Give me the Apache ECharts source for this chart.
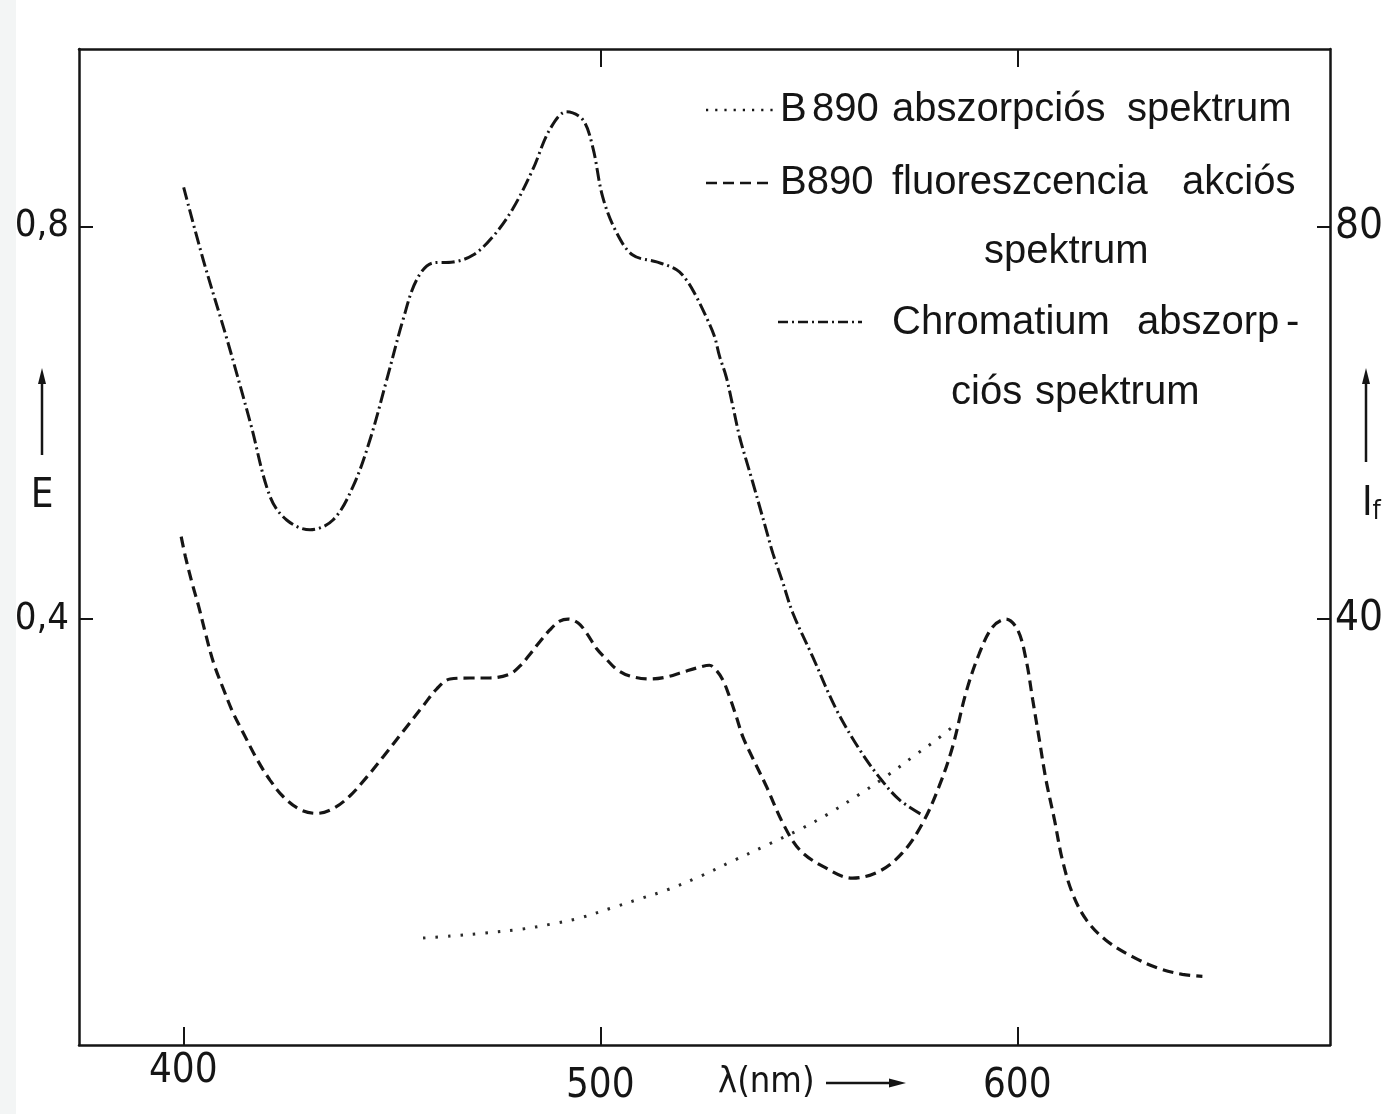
<!DOCTYPE html>
<html>
<head>
<meta charset="utf-8">
<script src="https://cdn.jsdelivr.net/npm/echarts@6/dist/echarts.min.js"></script>
<style>
  html, body { margin: 0; padding: 0; background: #ffffff; }
  #chart { width: 1392px; height: 1114px; }
</style>
</head>
<body>
<div id="chart"></div>
<script>
// Axis ticks
const wavelengthTicks = [400, 500, 600];
const topTicks = [500, 600];
const extinctionTicks = [0.4, 0.8];
const intensityTicks = [40, 80];

// Chromatium absorption spectrum (E, left axis)
const chromatiumNm = [400.1, 404.8, 410.5, 416.1, 420.8, 424.8, 430.4, 435.9, 440.7, 444.8,
  448.8, 452.7, 456.0, 459.9, 464.7, 469.5, 474.3, 479.0, 483.8, 487.9,
  491.9, 495.8, 498.2, 500.6, 503.9, 507.8, 513.5, 518.3, 520.6, 523.0,
  525.4, 527.4, 528.6, 530.2, 531.8, 533.4, 535.0, 536.6, 538.2, 539.8,
  541.4, 543.8, 546.2, 550.9, 556.6, 562.2, 566.9, 571.7, 577.0];
const chromatiumE = [0.840, 0.766, 0.685, 0.600, 0.525, 0.501, 0.491, 0.501, 0.535, 0.583,
  0.644, 0.705, 0.746, 0.763, 0.764, 0.771, 0.790, 0.818, 0.858, 0.899,
  0.917, 0.909, 0.881, 0.830, 0.794, 0.771, 0.764, 0.756, 0.746, 0.729,
  0.708, 0.688, 0.668, 0.647, 0.617, 0.586, 0.562, 0.539, 0.515, 0.491,
  0.467, 0.437, 0.406, 0.362, 0.308, 0.267, 0.239, 0.216, 0.201];

// B890 fluorescence action spectrum (If, right axis)
const fluorNm = [399.5, 400.5, 402.1, 403.7, 405.3, 407.3, 409.7, 412.0, 414.4, 417.7,
  420.8, 424.0, 428.0, 432.0, 436.0, 440.0, 444.0, 448.0, 452.8, 457.6,
  460.8, 464.0, 468.7, 473.5, 478.3, 480.7, 483.1, 485.5, 487.9, 490.3,
  492.3, 494.7, 496.7, 499.1, 501.5, 503.9, 507.1, 511.9, 515.9, 519.8,
  523.8, 526.2, 527.8, 529.4, 531.0, 532.6, 534.2, 536.6, 539.8, 543.8,
  547.8, 553.4, 560.5, 566.9, 572.5, 577.3, 581.3, 584.5, 587.7, 590.9,
  594.1, 597.3, 600.1, 602.1, 603.7, 605.3, 606.9, 608.9, 610.8, 613.2,
  616.5, 621.2, 627.6, 634.0, 639.6, 644.4];
const fluorIf = [48.4, 46.4, 43.7, 41.3, 38.6, 35.5, 32.8, 30.4, 28.4, 25.7,
  23.6, 21.9, 20.6, 20.2, 20.7, 22.0, 23.9, 26.0, 28.6, 31.2,
  32.9, 33.9, 34.0, 34.0, 34.4, 35.2, 36.4, 37.7, 38.9, 39.8,
  40.0, 39.6, 38.6, 37.0, 35.9, 34.9, 34.2, 33.9, 34.1, 34.6,
  35.1, 35.3, 34.8, 33.8, 32.1, 30.1, 28.0, 25.8, 23.0, 19.2,
  16.5, 14.8, 13.6, 14.3, 16.2, 19.2, 23.0, 27.0, 32.5, 36.5,
  39.2, 40.0, 38.9, 35.9, 31.8, 27.7, 23.6, 19.6, 15.5, 12.1,
  9.4, 7.3, 5.6, 4.4, 3.8, 3.6];

// B890 absorption spectrum (E, left axis)
const b890Nm = [457.5, 464.0, 472.0, 481.0, 488.0, 494.7, 503.0, 509.5, 516.0, 524.0,
  532.0, 540.6, 548.0, 554.5, 562.0, 569.0, 575.7, 580.0, 585.0];
const b890E = [0.075, 0.077, 0.080, 0.084, 0.089, 0.095, 0.106, 0.115, 0.124, 0.138,
  0.154, 0.171, 0.186, 0.201, 0.221, 0.241, 0.262, 0.275, 0.292];

const zip = (xs, ys) => xs.map((x, i) => [x, ys[i]]);

const INK = '#151515';
const NARROW = '"Liberation Sans Narrow", "DejaVu Sans Condensed", sans-serif';
const SANS = '"Liberation Sans", Arimo, sans-serif';

const chart = echarts.init(document.getElementById('chart'), null, { renderer: 'canvas' });

const legendText = (x, y, text) => ({
  type: 'text', x: x, y: y, silent: true,
  style: { text: text, fill: INK, font: '40px ' + SANS, textAlign: 'left', textVerticalAlign: 'middle' }
});
const sampleLine = (x1, x2, y, dash, width) => ({
  type: 'line', silent: true,
  shape: { x1: x1, y1: y, x2: x2, y2: y },
  style: { stroke: INK, lineWidth: width, lineDash: dash }
});
const upArrow = (x, yTop, yBottom) => ([
  { type: 'line', silent: true, shape: { x1: x, y1: yBottom, x2: x, y2: yTop + 12 },
    style: { stroke: INK, lineWidth: 2.5 } },
  { type: 'polygon', silent: true, shape: { points: [[x, yTop], [x - 4, yTop + 16], [x + 4, yTop + 16]] },
    style: { fill: INK } }
]);

const option = {
  backgroundColor: '#ffffff',
  animation: false,
  grid: { left: 79, right: 62, top: 49, bottom: 69, containLabel: false },
  xAxis: [
    {
      type: 'value', position: 'bottom', min: 375, max: 675,
      axisLine: { show: true, onZero: false, lineStyle: { color: INK, width: 2.5 } },
      axisTick: { show: true, inside: true, length: 18, customValues: wavelengthTicks,
        lineStyle: { color: INK, width: 2 } },
      axisLabel: {
        show: true, customValues: wavelengthTicks, margin: 7,
        formatter: v => (v === 400 ? '{hi|' + v + '}' : '{lo|' + v + '}'),
        rich: {
          hi: { fontSize: 40, fontFamily: NARROW, color: INK, padding: [0, 0, 0, 0] },
          lo: { fontSize: 40, fontFamily: NARROW, color: INK, padding: [15, 0, 0, 0] }
        }
      },
      splitLine: { show: false }
    },
    {
      type: 'value', position: 'top', min: 375, max: 675,
      axisLine: { show: true, onZero: false, lineStyle: { color: INK, width: 2.5 } },
      axisTick: { show: true, inside: true, length: 18, customValues: topTicks,
        lineStyle: { color: INK, width: 2 } },
      axisLabel: { show: false },
      splitLine: { show: false }
    }
  ],
  yAxis: [
    {
      type: 'value', position: 'left', min: -0.034, max: 0.981,
      axisLine: { show: true, onZero: false, lineStyle: { color: INK, width: 2.5 } },
      axisTick: { show: true, inside: true, length: 14, customValues: extinctionTicks,
        lineStyle: { color: INK, width: 2 } },
      axisLabel: {
        show: true, customValues: extinctionTicks, margin: 10,
        formatter: v => v.toFixed(1).replace('.', ','),
        fontSize: 38, fontFamily: NARROW, color: INK
      },
      splitLine: { show: false }
    },
    {
      type: 'value', position: 'right', min: -3.4, max: 98.1,
      axisLine: { show: true, onZero: false, lineStyle: { color: INK, width: 2.5 } },
      axisTick: { show: true, inside: true, length: 13, customValues: intensityTicks,
        lineStyle: { color: INK, width: 2 } },
      axisLabel: {
        show: true, customValues: intensityTicks, margin: 5,
        formatter: v => String(v),
        fontSize: 42, fontFamily: NARROW, color: INK
      },
      splitLine: { show: false }
    }
  ],
  series: [
    {
      name: 'Chromatium abszorpciós spektrum', type: 'line', xAxisIndex: 0, yAxisIndex: 0,
      data: zip(chromatiumNm, chromatiumE), smooth: 0.35, showSymbol: false,
      lineStyle: { color: INK, width: 3, type: [13, 4, 2, 4] }
    },
    {
      name: 'B890 fluoreszcencia akciós spektrum', type: 'line', xAxisIndex: 0, yAxisIndex: 1,
      data: zip(fluorNm, fluorIf), smooth: 0.35, showSymbol: false,
      lineStyle: { color: INK, width: 3.2, type: [11, 6] }
    },
    {
      name: 'B890 abszorpciós spektrum', type: 'line', xAxisIndex: 0, yAxisIndex: 0,
      data: zip(b890Nm, b890E), smooth: 0.35, showSymbol: false,
      lineStyle: { color: '#2a2a2a', width: 3, type: [2.5, 10] }
    }
  ],
  graphic: [
    // faint scan edge on the left margin
    { type: 'rect', silent: true, z: -10, shape: { x: 0, y: 0, width: 16, height: 1114 },
      style: { fill: 'rgba(215,222,222,0.3)' } },

    // legend
    sampleLine(706, 775, 110, [2.2, 7], 2.4),
    legendText(780, 110, 'B'),
    legendText(812, 110, '890'),
    legendText(892, 110, 'abszorpciós'),
    legendText(1127, 110, 'spektrum'),

    sampleLine(706, 772, 183, [11, 6], 2.5),
    legendText(780, 183, 'B890'),
    legendText(892, 183, 'fluoreszcencia'),
    legendText(1182, 183, 'akciós'),
    legendText(984, 252, 'spektrum'),

    sampleLine(778, 862, 322, [10, 4, 2, 4], 2.5),
    legendText(892, 323, 'Chromatium'),
    legendText(1137, 323, 'abszorp'),
    legendText(1286, 323, '-'),
    legendText(951, 393, 'ciós'),
    legendText(1035, 393, 'spektrum'),

    // left axis name with arrow
    ...upArrow(42, 368, 455),
    { type: 'text', x: 42, y: 497, silent: true,
      style: { text: 'E', fill: INK, font: '40px ' + NARROW, textAlign: 'center', textVerticalAlign: 'middle' } },

    // right axis name with arrow
    ...upArrow(1366, 368, 462),
    { type: 'text', x: 1362, y: 505, silent: true,
      style: {
        text: '{i|I}{f|f}', textAlign: 'left', textVerticalAlign: 'middle',
        rich: {
          i: { fontSize: 40, fontFamily: NARROW, fill: INK, color: INK },
          f: { fontSize: 26, fontFamily: NARROW, fill: INK, color: INK, padding: [14, 0, 0, 0] }
        }
      } },

    // wavelength axis name with arrow
    { type: 'text', x: 718, y: 1083, silent: true,
      style: { text: 'λ(nm)', fill: INK, font: '36px ' + NARROW, textAlign: 'left', textVerticalAlign: 'middle' } },
    { type: 'line', silent: true, shape: { x1: 826, y1: 1083, x2: 893, y2: 1083 },
      style: { stroke: INK, lineWidth: 2.5 } },
    { type: 'polygon', silent: true, shape: { points: [[906, 1083], [889, 1078.5], [889, 1087.5]] },
      style: { fill: INK } }
  ]
};

chart.setOption(option);
</script>
</body>
</html>
